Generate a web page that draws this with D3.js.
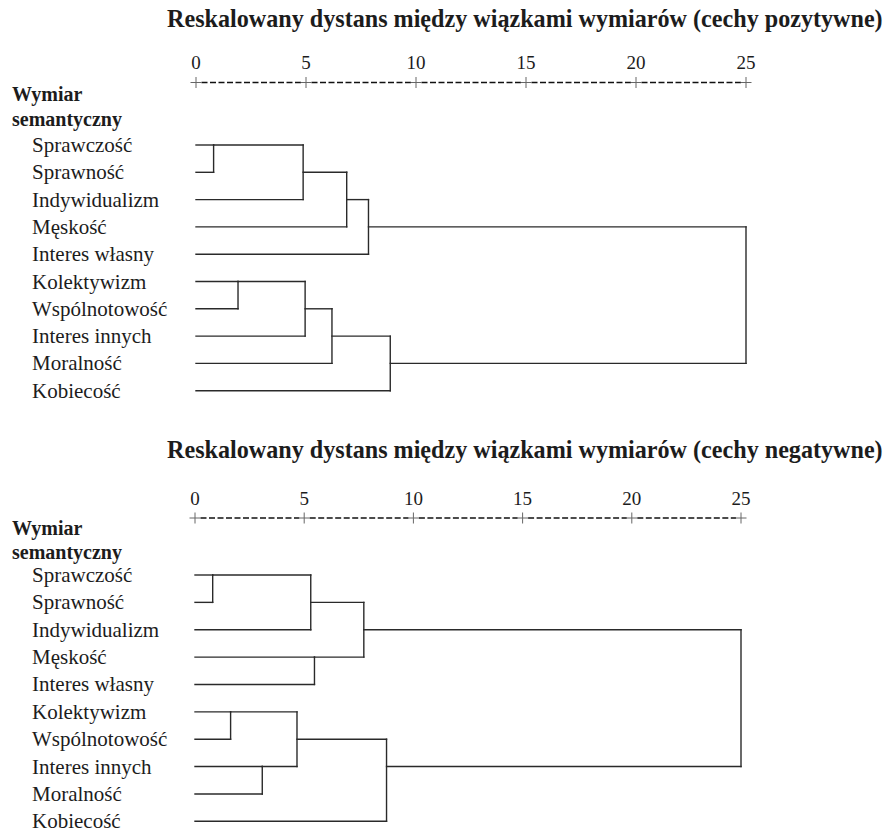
<!DOCTYPE html>
<html>
<head>
<meta charset="utf-8">
<script src="https://cdn.jsdelivr.net/npm/d3@7"></script>
<style>
  html, body { margin: 0; padding: 0; background: #fff; }
  svg { display: block; }
  text { font-family: "Liberation Serif", "Times New Roman", serif; fill: #1c1c1c; }
</style>
</head>
<body>
<svg id="chart" width="890" height="833"></svg>
<script>
// ---------------- data ----------------
const leaves = ["Sprawczość", "Sprawność", "Indywidualizm", "Męskość", "Interes własny",
                "Kolektywizm", "Wspólnotowość", "Interes innych", "Moralność", "Kobiecość"];
const tickValues = [0, 5, 10, 15, 20, 25];
const titlePositive = "Reskalowany dystans między wiązkami wymiarów (cechy pozytywne)";
const titleNegative = "Reskalowany dystans między wiązkami wymiarów (cechy negatywne)";
const rowHeader = ["Wymiar", "semantyczny"];
// agglomeration schedule: [clusterA, clusterB, rescaled distance]
// ids 0..9 = leaves, id 10+k = cluster formed in step k
const mergesPositive = [
  [0, 1, 0.80], [5, 6, 1.91], [10, 2, 4.87], [11, 7, 4.96], [13, 8, 6.18],
  [12, 3, 6.85], [15, 4, 7.84], [14, 9, 8.83], [16, 17, 25]
];
const mergesNegative = [
  [0, 1, 0.81], [5, 6, 1.63], [7, 8, 3.08], [11, 12, 4.67], [10, 2, 5.30],
  [3, 4, 5.47], [14, 15, 7.73], [13, 9, 8.77], [16, 17, 25]
];

// ---------------- drawing ----------------
const svg = d3.select("#chart");
const lineColor = "#2a2a2a";

// title size fitted so the top title spans the reference width
const probe = svg.append("text").attr("font-weight", "bold").attr("font-size", 20).text(titlePositive);
const titleSize = 20 * 716 / probe.node().getComputedTextLength();
probe.remove();

function drawPanel(cfg) {
  const g = svg.append("g");
  const x = d3.scaleLinear().domain([0, 25]).range(cfg.xRange);
  const y = d3.scaleLinear().domain([0, leaves.length - 1]).range(cfg.yRange);

  // title
  g.append("text")
    .attr("x", 167).attr("y", cfg.titleY)
    .attr("font-weight", "bold")
    .attr("font-size", titleSize)
    .text(cfg.title);

  // axis tick labels
  g.selectAll("text.tick").data(tickValues).join("text")
    .attr("class", "tick")
    .attr("x", d => x(d)).attr("y", cfg.tickY)
    .attr("text-anchor", "middle")
    .attr("font-size", 19)
    .text(d => d);

  // dashed axis segments
  const segs = d3.pairs(tickValues);
  g.selectAll("line.dash").data(segs).join("line")
    .attr("x1", d => x(d[0]) + 5.5).attr("x2", d => x(d[1]) - 5)
    .attr("y1", cfg.axisY).attr("y2", cfg.axisY)
    .attr("stroke", "#111").attr("stroke-width", 1.3)
    .attr("stroke-dasharray", "6,2.5");
  // plus signs
  const plus = g.selectAll("g.plus").data(tickValues).join("g")
    .attr("transform", d => `translate(${x(d)},${cfg.axisY})`);
  plus.append("line").attr("x1", -5.5).attr("x2", 5.5).attr("y1", 0).attr("y2", 0)
    .attr("stroke", "#666").attr("stroke-width", 1);
  plus.append("line").attr("x1", 0).attr("x2", 0).attr("y1", -5.5).attr("y2", 5.5)
    .attr("stroke", "#666").attr("stroke-width", 1);

  // row header
  g.append("text").attr("x", 12).attr("y", cfg.headY[0])
    .attr("font-weight", "bold").attr("font-size", 20).text(rowHeader[0]);
  g.append("text").attr("x", 12).attr("y", cfg.headY[1])
    .attr("font-weight", "bold").attr("font-size", 20).text(rowHeader[1]);

  // leaf labels
  g.selectAll("text.leaf").data(leaves).join("text")
    .attr("class", "leaf")
    .attr("x", 32).attr("y", (d, i) => y(i) + 7)
    .attr("font-size", 21)
    .text(d => d);

  // build nodes from schedule
  const nodes = leaves.map((name, i) => ({ row: i, dist: 0 }));
  const segments = [];
  cfg.merges.forEach(([a, b, dist]) => {
    const na = nodes[a], nb = nodes[b];
    segments.push({ x1: x(na.dist), x2: x(dist), y1: y(na.row), y2: y(na.row) });
    segments.push({ x1: x(nb.dist), x2: x(dist), y1: y(nb.row), y2: y(nb.row) });
    segments.push({ x1: x(dist), x2: x(dist), y1: y(na.row), y2: y(nb.row) });
    nodes.push({ row: Math.floor((na.row + nb.row) / 2), dist: dist });
  });
  g.selectAll("line.link").data(segments).join("line")
    .attr("class", "link")
    .attr("x1", d => d.x1).attr("x2", d => d.x2)
    .attr("y1", d => d.y1).attr("y2", d => d.y2)
    .attr("stroke", lineColor).attr("stroke-width", 1.4)
    .attr("stroke-linecap", "square");
}

drawPanel({
  title: titlePositive, titleY: 27,
  tickY: 69, axisY: 82.5, headY: [100.5, 125.5],
  xRange: [196, 746], yRange: [145, 390.7], merges: mergesPositive
});
drawPanel({
  title: titleNegative, titleY: 458,
  tickY: 505, axisY: 518, headY: [535, 559],
  xRange: [195, 741], yRange: [575, 821.3], merges: mergesNegative
});
</script>
</body>
</html>
